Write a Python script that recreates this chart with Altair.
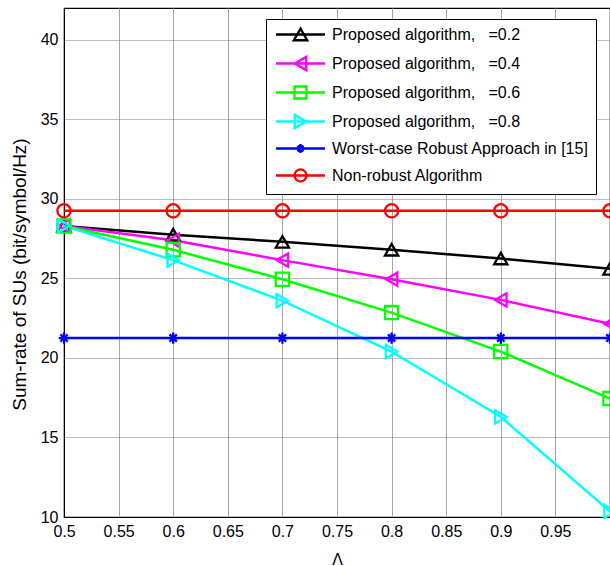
import altair as alt
import pandas as pd

# Abscissa (Λ) and per-scheme sum-rate values
lam = [0.5, 0.6, 0.7, 0.8, 0.9, 1.0]

names = [
    "Proposed algorithm,\u00a0\u00a0 =0.2",
    "Proposed algorithm,\u00a0\u00a0 =0.4",
    "Proposed algorithm,\u00a0\u00a0 =0.6",
    "Proposed algorithm,\u00a0\u00a0 =0.8",
    "Worst-case Robust Approach in [15]",
    "Non-robust Algorithm",
]

rate_02 = [28.3, 27.75, 27.3, 26.8, 26.25, 25.6]
rate_04 = [28.3, 27.4, 26.15, 24.95, 23.65, 22.15]
rate_06 = [28.3, 26.8, 24.95, 22.85, 20.4, 17.45]
rate_08 = [28.3, 26.15, 23.6, 20.4, 16.3, 10.35]
rate_worst = [21.25, 21.25, 21.25, 21.25, 21.25, 21.25]
rate_nonrobust = [29.25, 29.25, 29.25, 29.25, 29.25, 29.25]

colors = ["#000000", "#ff00ff", "#00ff00", "#00ffff", "#0000ff", "#ff0000"]

x_ticks = [0.5, 0.55, 0.6, 0.65, 0.7, 0.75, 0.8, 0.85, 0.9, 0.95]
y_ticks = [10, 15, 20, 25, 30, 35, 40]

# marker shapes used on the curves (unit-square symbol path for the asterisk)
star = "M-0.8,0H0.8M0,-0.85V0.85M-0.55,-0.55L0.55,0.55M-0.55,0.55L0.55,-0.55"
markers = ["triangle-up", "triangle-left", "square", "triangle-right", star, "circle"]

# legend glyphs: a short line segment with the marker drawn on it
seg = "M-3.5,0H3.5"
legend_glyphs = [
    seg + "M0,-0.82L-0.95,0.82L0.95,0.82Z",
    seg + "M-0.82,0L0.82,-0.95L0.82,0.95Z",
    seg + "M-0.86,-0.86H0.86V0.86H-0.86Z",
    seg + "M0.82,0L-0.82,-0.95L-0.82,0.95Z",
    seg + "M-0.6,0H0.6M0,-0.65V0.65M-0.42,-0.42L0.42,0.42M-0.42,0.42L0.42,-0.42",
    seg + "M-0.86,0A0.86,0.86,0,1,1,0.86,0A0.86,0.86,0,1,1,-0.86,0",
]

series = [rate_02, rate_04, rate_06, rate_08, rate_worst, rate_nonrobust]
rows = []
for k, (name, vals) in enumerate(zip(names, series)):
    for x, v in zip(lam, vals):
        rows.append({"series": name, "order": k, "lam": x, "rate": v})
df = pd.DataFrame(rows)

FONT = "Liberation Sans"

x_enc = alt.X(
    "lam:Q",
    scale=alt.Scale(domain=[0.5, 1.0], nice=False),
    axis=alt.Axis(
        values=x_ticks,
        format="~g",
        title="Λ",
        titleFont=FONT,
        titleFontSize=16,
        titleFontWeight="normal",
        titleColor="#000000",
        titleY=34,
        titleBaseline="top",
        labelFont=FONT,
        labelFontSize=16,
        labelColor="#000000",
        labelPadding=6,
        ticks=False,
        domainColor="#000000",
        grid=True,
        gridColor="#a8a8a8",
        gridWidth=1,
        labelFlush=False,
    ),
)
y_enc = alt.Y(
    "rate:Q",
    scale=alt.Scale(domain=[10, 42], nice=False),
    axis=alt.Axis(
        values=y_ticks,
        title="Sum-rate of SUs (bit/symbol/Hz)",
        titleFont=FONT,
        titleFontSize=19,
        titleFontWeight="normal",
        titleColor="#000000",
        titlePadding=11,
        titleY=266,
        labelFont=FONT,
        labelFontSize=16,
        labelColor="#000000",
        labelPadding=6,
        ticks=False,
        domainColor="#000000",
        grid=True,
        gridColor="#7a7a7a",
        gridDash=[1, 1],
        gridWidth=1,
    ),
)

legend_box = alt.Legend(
    title=None,
    orient="none",
    legendX=202,
    legendY=11,
    direction="vertical",
    fillColor="#ffffff",
    strokeColor="#000000",
    padding=7,
    rowPadding=6,
    symbolSize=196,
    symbolStrokeWidth=2.4,
    symbolOpacity=1,
    symbolOffset=19,
    labelOffset=23,
    labelFont=FONT,
    labelFontSize=16,
    labelColor="#000000",
    labelLimit=400,
)

lines = alt.Chart(df).mark_line(strokeWidth=2.5).encode(
    x=x_enc,
    y=y_enc,
    color=alt.Color("series:N", scale=alt.Scale(domain=names, range=colors), legend=None),
    detail="order:O",
)

points = alt.Chart(df).mark_point(filled=False, size=175, strokeWidth=2.3, opacity=1).encode(
    x=x_enc,
    y=y_enc,
    color=alt.Color("series:N", scale=alt.Scale(domain=names, range=colors), legend=None),
    shape=alt.Shape("series:N", scale=alt.Scale(domain=names, range=markers), legend=None),
)

# legend-only layer: no rows survive the filter, the entries come from the scale domain
key = (
    alt.Chart(df)
    .transform_filter("datum.rate < 0")
    .mark_point(filled=False, strokeWidth=2.4, opacity=1)
    .encode(
        x=x_enc,
        y=y_enc,
        color=alt.Color("series:N", scale=alt.Scale(domain=names, range=colors), legend=legend_box),
        shape=alt.Shape("series:N", scale=alt.Scale(domain=names, range=legend_glyphs), legend=legend_box),
    )
)

chart = (
    alt.layer(lines, points, key)
    .resolve_scale(shape="independent", color="independent")
    .properties(
        width=546,
        height=509,
        autosize=alt.AutoSizeParams(type="none"),
        padding={"left": 64, "top": 8, "right": 0, "bottom": 49},
        background="#ffffff",
    )
    .configure_view(stroke="#000000", strokeWidth=1.2)
)

chart.save("out.html", embed_options={"renderer": "svg", "actions": False})
